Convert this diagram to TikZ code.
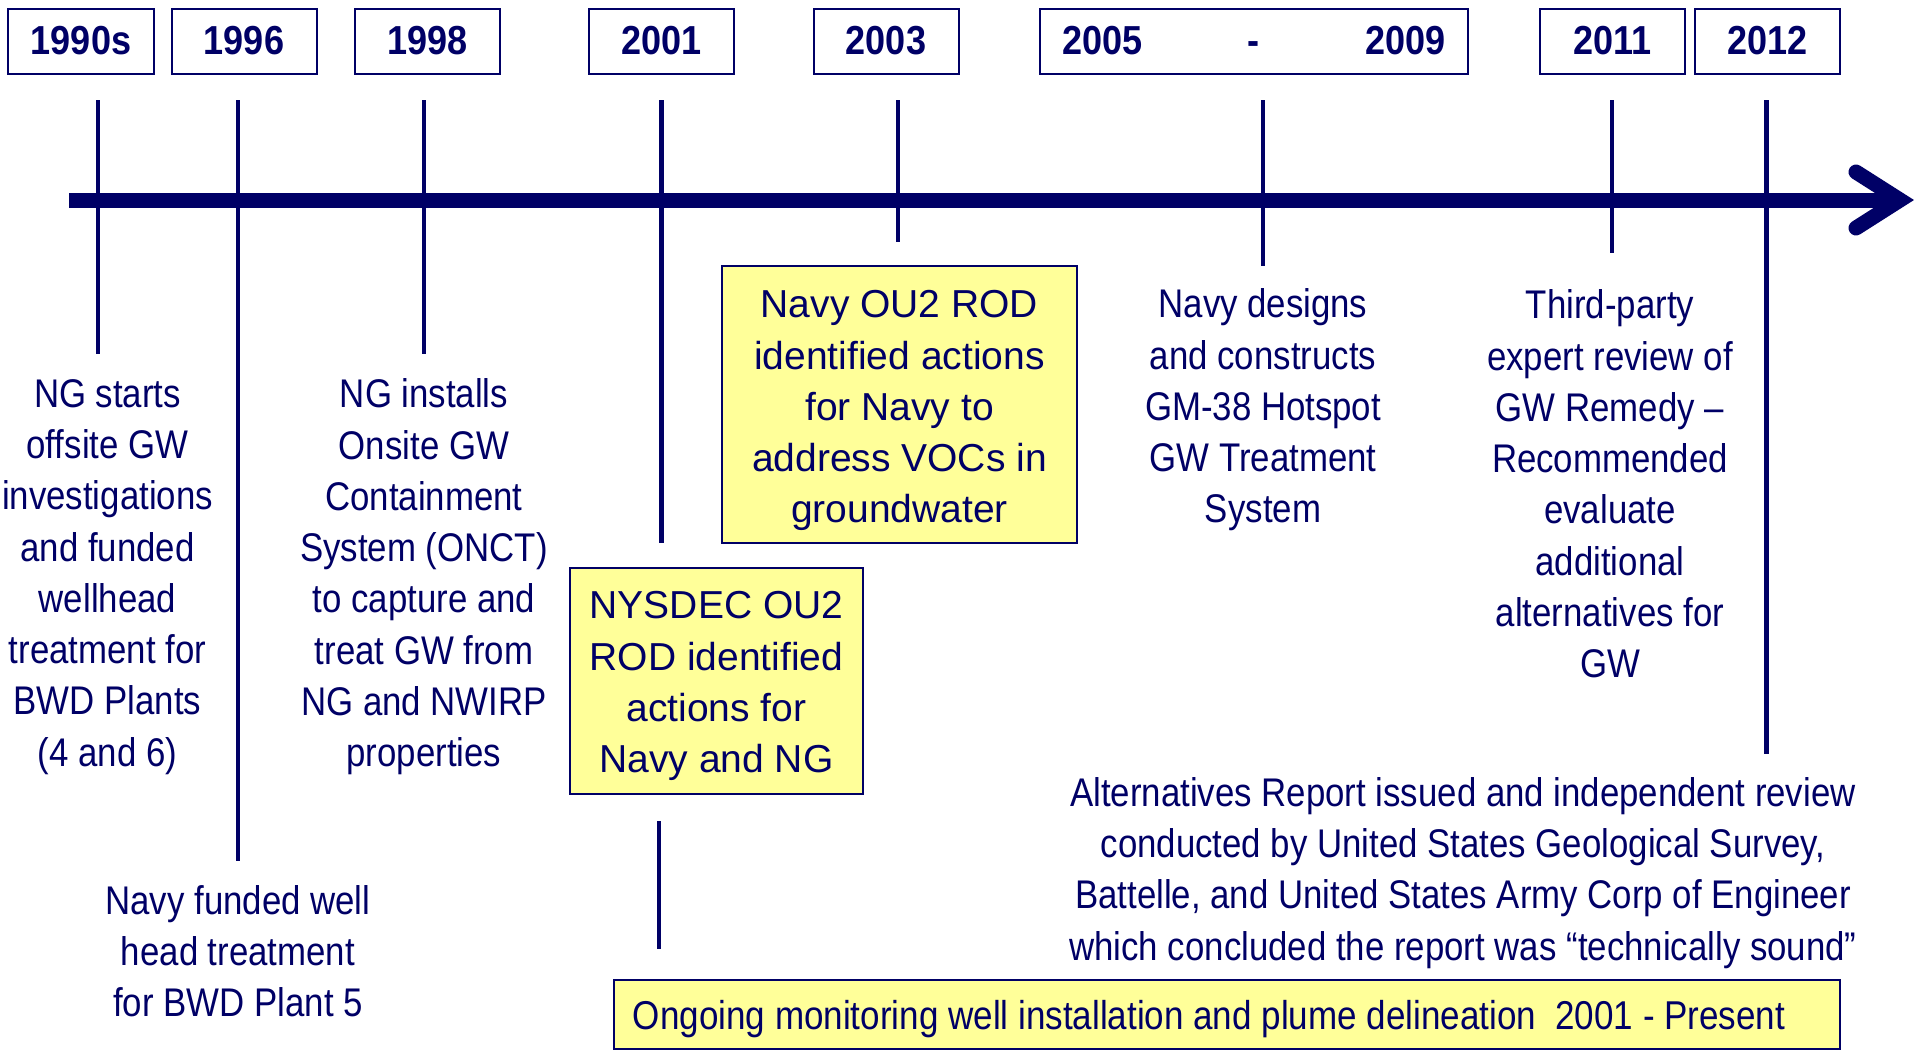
\documentclass[tikz,border=0pt]{standalone}
\usepackage{fontspec}
\setmainfont{Liberation Sans}[FakeStretch=0.87]
\newfontfamily\boxfont{Liberation Sans}
\newfontfamily\yearfont{Liberation Sans}[FakeStretch=0.89]
\definecolor{navy}{RGB}{0,0,102}
\definecolor{notefill}{RGB}{255,255,153}

\begin{document}
\begin{tikzpicture}[x=0.4pt, y=-0.4pt,
  year/.style = {draw=navy, line width=0.8pt, fill=white, minimum width=58pt, minimum height=26pt, inner sep=0pt, text=navy, font=\yearfont\fontsize{16.2}{18}\selectfont\bfseries},
  txt/.style = {text=navy, align=center, inner sep=0pt, font=\fontsize{16}{20.5}\selectfont},
  note/.style = {draw=navy, fill=notefill, line width=0.8pt, inner sep=0pt, text=navy, align=center, font=\boxfont\fontsize{15.6}{20.5}\selectfont},
  tick/.style = {draw=navy, line width=1.3pt},
  bigtick/.style = {draw=navy, line width=2pt},
  axis/.style = {draw=navy, line width=6pt}]
\useasboundingbox (0,0) rectangle (1915,1049);

% years
\node[year] (y90) at (81,41) {1990s};
\node[year] (y96) at (244,41) {1996};
\node[year] (y98) at (427.5,41) {1998};
\node[year] (y01) at (661.5,41) {2001};
\node[year] (y03) at (886,41) {2003};
\node[year, minimum width=171.2pt, text width=153.6pt] (y05) at (1254,41) {2005\hfill-\hfill2009};
\node[year] (y11) at (1612.5,41) {2011};
\node[year] (y12) at (1767.5,41) {2012};

% ticks
\coordinate (a90) at (98,100);   \coordinate (b90) at (98,354);
\coordinate (a96) at (238,100);  \coordinate (b96) at (238,861);
\coordinate (a98) at (424,100);  \coordinate (b98) at (424,354);
\coordinate (a01) at (661,100);  \coordinate (b01) at (661,543);
\coordinate (c01) at (659,821);  \coordinate (d01) at (659,949);
\coordinate (a03) at (898,100);  \coordinate (b03) at (898,242);
\coordinate (a05) at (1263,100); \coordinate (b05) at (1263,266);
\coordinate (a11) at (1612,100); \coordinate (b11) at (1612,253);
\coordinate (a12) at (1766,100); \coordinate (b12) at (1766,754);
\draw[tick] (a90) -- (b90);
\draw[tick] (a96) -- (b96);
\draw[tick] (a98) -- (b98);
\draw[bigtick] (a01) -- (b01);
\draw[tick] (c01) -- (d01);
\draw[tick] (a03) -- (b03);
\draw[tick] (a05) -- (b05);
\draw[tick] (a11) -- (b11);
\draw[bigtick] (a12) -- (b12);

% timeline
\coordinate (tl0) at (69,200);
\coordinate (tl1) at (1900,200);
\coordinate (hd1) at (1856,172);
\coordinate (hd2) at (1856,228);
\draw[axis] (tl0) -- (tl1);
\draw[axis, line cap=round, line join=miter] (hd1) -- (tl1) -- (hd2);

% events
\node[txt] (e90) at (107.5,577) {NG starts\\offsite GW\\investigations\\and funded\\wellhead\\treatment for\\BWD Plants\\(4 and 6)};
\node[txt] (e98) at (424,577) {NG installs\\Onsite GW\\Containment\\System (ONCT)\\to capture and\\treat GW from\\NG and NWIRP\\properties};
\node[txt] (e96) at (238,951) {Navy funded well\\head treatment\\for BWD Plant 5};
\node[note, minimum width=142pt, minimum height=110.8pt] (e03) at (899.5,404.5) {\rule{0pt}{16pt}Navy OU2 ROD\\identified actions\\for Navy to\\address VOCs in\\groundwater};
\node[note, minimum width=117.2pt, minimum height=90.4pt] (e01) at (716.5,681) {\rule{0pt}{15pt}NYSDEC OU2\\ROD identified\\actions for\\Navy and NG};
\node[txt] (e05) at (1263,410) {Navy designs\\and constructs\\GM-38 Hotspot\\GW Treatment\\System};
\node[txt] (e11) at (1610,484) {Third-party\\expert review of\\GW Remedy --\\Recommended\\evaluate\\additional\\alternatives for\\GW};
\node[txt] (e12) at (1463,873) {Alternatives Report issued and independent review\\conducted by United States Geological Survey,\\Battelle, and United States Army Corp of Engineer\\which concluded the report was “technically sound”};
\node[note, minimum width=490.4pt, minimum height=27.6pt, font=\fontsize{16.1}{20.5}\selectfont] (mon) at (1227,1014) {\makebox[475.2pt][l]{\rule{0pt}{15.8pt}Ongoing monitoring well installation and plume delineation \ 2001 - Present}};

\end{tikzpicture}
\end{document}
